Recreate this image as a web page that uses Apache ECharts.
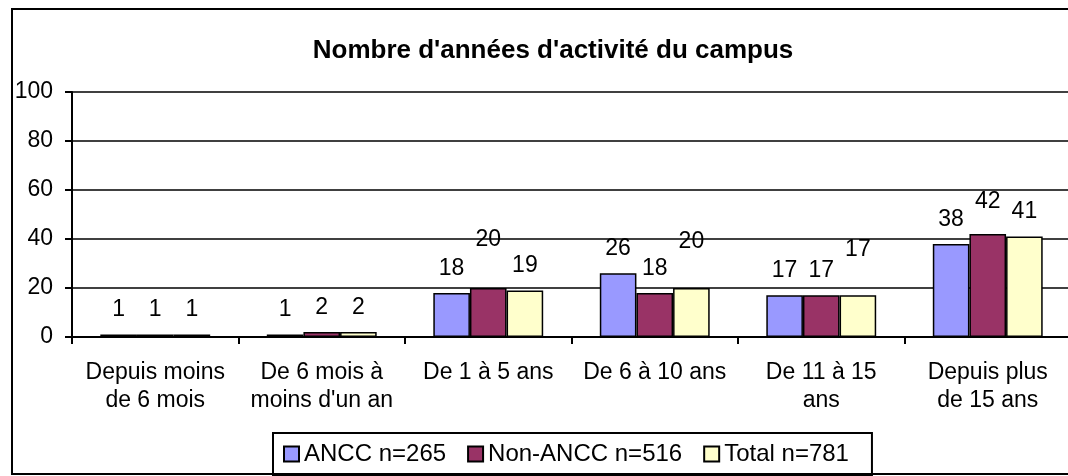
<!DOCTYPE html>
<html>
<head>
<meta charset="utf-8">
<script src="https://cdn.jsdelivr.net/npm/echarts@6/dist/echarts.min.js"></script>
<style>
  html, body { margin: 0; padding: 0; overflow: hidden; background: #fff; }
  #chart { width: 1080px; height: 476px; }
</style>
</head>
<body>
<div id="chart"></div>
<script>
// catégories et valeurs
const categories = [
  'Depuis moins\nde 6 mois',
  'De 6 mois à\nmoins d\'un an',
  'De 1 à 5 ans',
  'De 6 à 10 ans',
  'De 11 à 15\nans',
  'Depuis plus\nde 15 ans'
]
const ancc = [1, 1, 18, 26, 17, 38]
const nonAncc = [1, 2, 20, 18, 17, 42]
const total = [1, 2, 19, 20, 17, 41]
const seriesNames = ['ANCC n=265', 'Non-ANCC n=516', 'Total n=781']
const colors = ['#9999FF', '#993366', '#FFFFCC']

// étiquettes qu'Excel a décalées vers le haut (serie-categorie : pixels en plus)
const lifted = { '1-2': 24, '2-3': 22, '2-4': 21, '1-5': 8 }

const font = '"Liberation Sans", Arial, sans-serif'

function makeSeries(values, idx) {
  return {
    name: seriesNames[idx],
    type: 'bar',
    barGap: 0,
    barCategoryGap: '34%',
    itemStyle: { color: colors[idx], borderColor: '#000', borderWidth: 1.5 },
    label: { show: true, position: 'top', distance: 13, color: '#000', fontSize: 23, fontFamily: font },
    data: values.map((v, i) => {
      const extra = lifted[idx + '-' + i]
      return extra ? { value: v, label: { distance: 13 + extra } } : v
    })
  }
}

const myChart = echarts.init(document.getElementById('chart'))
myChart.setOption({
  animation: false,
  textStyle: { fontFamily: font },
  title: {
    text: "Nombre d'années d'activité du campus",
    left: 548,
    textAlign: 'center',
    top: 33,
    textStyle: { fontSize: 26, fontWeight: 'bold', color: '#000', fontFamily: font }
  },
  graphic: [{
    type: 'rect',
    shape: { x: 12, y: 9, width: 1100, height: 465 },
    style: { fill: 'none', stroke: '#000', lineWidth: 2 },
    z: -1
  }],
  legend: {
    left: 273,
    top: 433,
    padding: [9, 23, 9, 10],
    borderColor: '#000',
    borderWidth: 2,
    itemWidth: 15,
    itemHeight: 15,
    itemGap: 21,
    icon: 'rect',
    textStyle: { fontSize: 24, color: '#000', fontFamily: font },
    data: seriesNames
  },
  grid: { left: 72, top: 92, bottom: 139, right: 9 },
  xAxis: {
    type: 'category',
    data: categories,
    axisLine: { lineStyle: { color: '#000', width: 2 } },
    axisTick: { show: true, alignWithLabel: false, length: 7, lineStyle: { color: '#000', width: 2 } },
    axisLabel: { fontSize: 23, color: '#000', lineHeight: 28, margin: 22, interval: 0, fontFamily: font }
  },
  yAxis: {
    type: 'value',
    min: 0,
    max: 100,
    interval: 20,
    axisLine: { show: true, lineStyle: { color: '#000', width: 2 } },
    axisTick: { show: true, length: 7, lineStyle: { color: '#000', width: 2 } },
    axisLabel: { fontSize: 23, color: '#000', margin: 19, fontFamily: font },
    splitLine: { lineStyle: { color: '#000', width: 1.5 } }
  },
  series: [makeSeries(ancc, 0), makeSeries(nonAncc, 1), makeSeries(total, 2)]
})
</script>
</body>
</html>
